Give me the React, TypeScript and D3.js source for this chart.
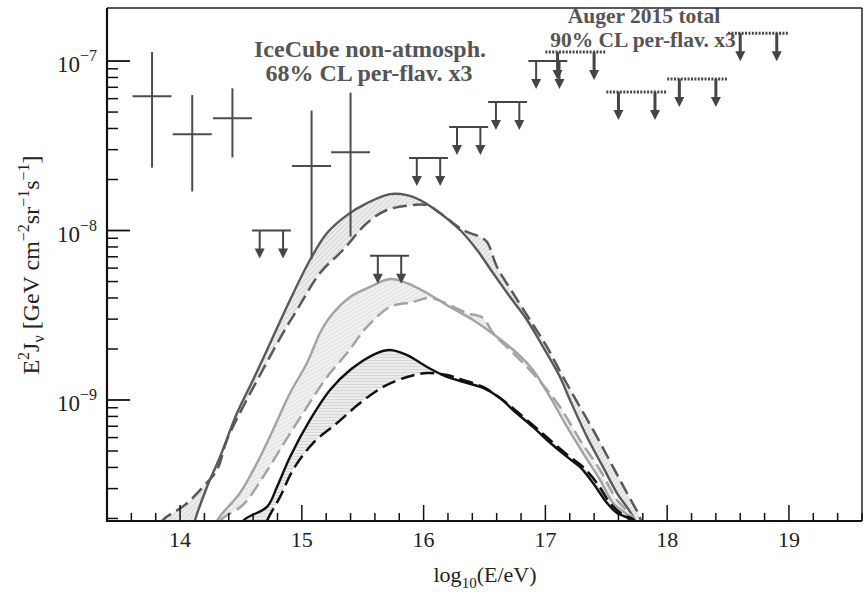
import React from 'react';
import * as d3 from 'd3';

// ---------- data ----------
// IceCube non-atmospheric points (log10 E/eV, E^2 J)
const icePtE = [13.77, 14.10, 14.43, 15.08, 15.40];
const icePtF = [6.2e-8, 3.7e-8, 4.6e-8, 2.4e-8, 2.9e-8];
const icePtHi = [1.13e-7, 6.3e-8, 6.9e-8, 5.1e-8, 6.5e-8];
const icePtLo = [2.35e-8, 1.7e-8, 2.7e-8, 6.8e-9, 9.2e-9];
const iceHalfW = 0.16;
// IceCube upper limits
const iceLimE = [14.75, 15.72, 16.04, 16.37, 16.69, 17.02];
const iceLimF = [1.0e-8, 7.1e-9, 2.68e-8, 4.08e-8, 5.73e-8, 1.0e-7];
// Auger 2015 upper limits
const augLimE = [17.25, 17.75, 18.25, 18.75];
const augLimF = [1.13e-7, 6.56e-8, 7.83e-8, 1.46e-7];
const augHalfW = 0.25;

// model curves: log10(E/eV) and log10(E^2 J)
const darkSolidE = [14.08, 14.123, 14.221, 14.328, 14.468, 14.599, 14.714, 14.763, 14.903, 15.067, 15.207, 15.371, 15.535, 15.724, 15.864, 15.97, 16.077, 16.299, 16.439, 16.57, 16.71, 16.849, 16.981, 17.12, 17.202, 17.342, 17.473, 17.588, 17.72, 17.777];
const darkSolidF = [-9.826, -9.708, -9.513, -9.336, -9.077, -8.882, -8.705, -8.628, -8.41, -8.174, -8.015, -7.909, -7.838, -7.785, -7.791, -7.82, -7.867, -7.997, -8.115, -8.251, -8.392, -8.528, -8.687, -8.864, -9.0, -9.218, -9.395, -9.549, -9.69, -9.826];
const darkDashE = [13.753, 13.86, 14.041, 14.188, 14.303, 14.385, 14.517, 14.714, 14.845, 14.96, 15.149, 15.338, 15.535, 15.699, 15.913, 16.028, 16.135, 16.324, 16.463, 16.521, 16.603, 16.734, 16.874, 17.013, 17.145, 17.284, 17.424, 17.555, 17.67, 17.777, 17.818];
const darkDashF = [-9.826, -9.708, -9.619, -9.513, -9.413, -9.236, -9.041, -8.776, -8.605, -8.469, -8.251, -8.115, -7.956, -7.879, -7.85, -7.85, -7.897, -7.997, -8.038, -8.068, -8.215, -8.369, -8.528, -8.687, -8.864, -9.041, -9.218, -9.395, -9.549, -9.696, -9.826];
const lightSolidE = [14.262, 14.303, 14.492, 14.632, 14.763, 14.903, 15.042, 15.149, 15.231, 15.396, 15.56, 15.724, 15.864, 16.028, 16.217, 16.406, 16.603, 16.767, 16.898, 17.038, 17.178, 17.309, 17.449, 17.555, 17.695, 17.736];
const lightSolidF = [-9.826, -9.714, -9.549, -9.372, -9.177, -8.959, -8.782, -8.605, -8.51, -8.392, -8.333, -8.286, -8.31, -8.369, -8.451, -8.528, -8.628, -8.723, -8.823, -8.982, -9.159, -9.313, -9.472, -9.608, -9.696, -9.826];
const lightDashE = [14.287, 14.328, 14.517, 14.681, 14.845, 15.01, 15.207, 15.371, 15.535, 15.724, 15.913, 16.053, 16.356, 16.488, 16.57, 16.71, 16.849, 16.981, 17.12, 17.284, 17.449, 17.588, 17.72, 17.761];
const lightDashF = [-9.826, -9.714, -9.619, -9.454, -9.265, -9.077, -8.864, -8.723, -8.569, -8.451, -8.422, -8.398, -8.487, -8.516, -8.605, -8.705, -8.805, -8.912, -9.041, -9.236, -9.413, -9.59, -9.696, -9.826];
const blackSolidE = [14.476, 14.517, 14.714, 14.796, 14.903, 15.067, 15.231, 15.396, 15.617, 15.724, 15.864, 16.028, 16.192, 16.299, 16.488, 16.627, 16.734, 16.898, 17.013, 17.178, 17.284, 17.391, 17.506, 17.588, 17.695, 17.736];
const blackSolidF = [-9.826, -9.714, -9.631, -9.513, -9.336, -9.118, -8.941, -8.823, -8.723, -8.705, -8.735, -8.805, -8.864, -8.888, -8.929, -8.988, -9.059, -9.159, -9.236, -9.336, -9.395, -9.49, -9.608, -9.667, -9.708, -9.826];
const blackDashE = [14.673, 14.714, 14.821, 14.927, 15.092, 15.289, 15.478, 15.667, 15.864, 16.028, 16.192, 16.299, 16.488, 16.627, 16.751, 16.915, 17.038, 17.202, 17.309, 17.424, 17.531, 17.629, 17.736, 17.777];
const blackDashF = [-9.826, -9.714, -9.572, -9.413, -9.254, -9.136, -9.018, -8.923, -8.864, -8.841, -8.853, -8.876, -8.923, -8.988, -9.059, -9.159, -9.236, -9.336, -9.395, -9.49, -9.608, -9.673, -9.714, -9.826];

const xTickVals = [14, 15, 16, 17, 18, 19];
const yExpVals = [-9, -8, -7];

// ---------- layout ----------
const W = 863, H = 592;
const L = 107, R = 862, T = 8, B = 521;
const FONT = "'Liberation Serif', 'Times New Roman', serif";

const x = d3.scaleLinear().domain([13.4, 19.6]).range([L, R]);
const y = d3.scaleLog().domain([Math.pow(10, -9.714), Math.pow(10, -6.687)]).range([B, T]);

type P = [number, number];
const zip = (e: number[], f: number[]): P[] => e.map((v, i) => [v, f[i]] as P);

const line = d3.line<P>()
  .x(d => x(d[0]))
  .y(d => y(Math.pow(10, d[1])))
  .curve(d3.curveCatmullRom.alpha(0.5));

const band = (a: P[], b: P[]) => {
  const p1 = line(a) || '';
  const p2 = (line([...b].reverse()) || '').replace(/^M/, 'L');
  return p1 + p2 + 'Z';
};

const pairs = [
  { s: zip(darkSolidE, darkSolidF), d: zip(darkDashE, darkDashF), color: '#595959', pat: 'hatchDark' },
  { s: zip(lightSolidE, lightSolidF), d: zip(lightDashE, lightDashF), color: '#a3a3a3', pat: 'hatchLight' },
  { s: zip(blackSolidE, blackSolidF), d: zip(blackDashE, blackDashF), color: '#111111', pat: 'hatchBlack' },
];

const LIM = '#474444';

function Arrow({ cx, y0, w }: { cx: number; y0: number; w: number }) {
  const len = 28, head = 10, hw = 5;
  return (
    <g>
      <line x1={cx} x2={cx} y1={y0} y2={y0 + len - head + 1} stroke={LIM} strokeWidth={w} />
      <polygon points={`${cx - hw},${y0 + len - head} ${cx + hw},${y0 + len - head} ${cx},${y0 + len}`} fill={LIM} />
    </g>
  );
}

export default function App() {
  const xMinor: number[] = [];
  for (let v = 13.4; v <= 19.61; v += 0.2) xMinor.push(Math.round(v * 10) / 10);
  const yMinor: number[] = [];
  for (let e = -10; e <= -7; e++) for (let m = 2; m <= 9; m++) {
    const v = m * Math.pow(10, e);
    if (v > y.domain()[0] && v < 1e-7) yMinor.push(v);
  }

  return (
    <svg width={W} height={H} style={{ display: 'block', position: 'absolute', left: 0, top: 0, background: '#fff' }}
      fontFamily={FONT}>
      <defs>
        <clipPath id="plot"><rect x={L} y={T} width={R - L} height={B - T} /></clipPath>
        <pattern id="hatchDark" patternUnits="userSpaceOnUse" width="3.5" height="3.5" patternTransform="rotate(45)">
          <rect width="3.5" height="3.5" fill="#ececec" />
          <line x1="0" y1="0" x2="0" y2="3.5" stroke="#c2c2c2" strokeWidth="1" />
        </pattern>
        <pattern id="hatchLight" patternUnits="userSpaceOnUse" width="3.5" height="3.5" patternTransform="rotate(60)">
          <rect width="3.5" height="3.5" fill="#f0f0f0" />
          <line x1="0" y1="0" x2="0" y2="3.5" stroke="#d2d2d2" strokeWidth="1" />
        </pattern>
        <pattern id="hatchBlack" patternUnits="userSpaceOnUse" width="4" height="3">
          <rect width="4" height="3" fill="#ececec" />
          <line x1="0" y1="0" x2="4" y2="0" stroke="#c2c2c2" strokeWidth="1" />
        </pattern>
      </defs>

      <rect x={0} y={0} width={W} height={H} fill="#fff" />

      <g clipPath="url(#plot)">
        {pairs.map((p, i) => (
          <path key={'f' + i} d={band(p.s, p.d)} fill={`url(#${p.pat})`} fillRule="evenodd" stroke="none" />
        ))}
        {pairs.map((p, i) => (
          <g key={'l' + i}>
            <path d={line(p.d) || ''} fill="none" stroke={p.color} strokeWidth={2.5} strokeDasharray="14,6" />
            <path d={line(p.s) || ''} fill="none" stroke={p.color} strokeWidth={2.4} />
          </g>
        ))}
      </g>

      {/* IceCube points */}
      {icePtE.map((e, i) => (
        <g key={'pt' + i} stroke="#4d4d4d" strokeWidth={2}>
          <line x1={x(e - iceHalfW)} x2={x(e + iceHalfW)} y1={y(icePtF[i])} y2={y(icePtF[i])} />
          <line x1={x(e)} x2={x(e)} y1={y(icePtHi[i])} y2={y(icePtLo[i])} />
        </g>
      ))}

      {/* IceCube limits */}
      {iceLimE.map((e, i) => {
        const yy = y(iceLimF[i]);
        return (
          <g key={'il' + i}>
            <line x1={x(e - iceHalfW)} x2={x(e + iceHalfW)} y1={yy} y2={yy} stroke={LIM} strokeWidth={2} />
            <Arrow cx={x(e - 0.6 * iceHalfW)} y0={yy} w={2} />
            <Arrow cx={x(e + 0.6 * iceHalfW)} y0={yy} w={2} />
          </g>
        );
      })}

      {/* Auger limits */}
      {augLimE.map((e, i) => {
        const yy = y(augLimF[i]);
        return (
          <g key={'al' + i}>
            <line x1={x(e - augHalfW)} x2={x(e + augHalfW)} y1={yy} y2={yy} stroke={LIM} strokeWidth={3} strokeDasharray="2,1.4" />
            <Arrow cx={x(e - 0.6 * augHalfW)} y0={yy} w={3} />
            <Arrow cx={x(e + 0.6 * augHalfW)} y0={yy} w={3} />
          </g>
        );
      })}

      {/* annotations */}
      <g fill="#555" fontWeight="bold" textAnchor="middle">
        <text x={370} y={57} fontSize={24}>IceCube non-atmosph.</text>
        <text x={369} y={81} fontSize={24}>68% CL per-flav. x3</text>
        <text x={644} y={23} fontSize={21.5}>Auger 2015 total</text>
        <text x={643} y={47} fontSize={21.5}>90% CL per-flav. x3</text>
      </g>

      {/* frame */}
      <line x1={L} x2={R} y1={T} y2={T} stroke="#222" strokeWidth={1.5} />
      <line x1={R} x2={R} y1={T} y2={B} stroke="#222" strokeWidth={1.5} />
      <line x1={L} x2={L} y1={T} y2={B + 1} stroke="#111" strokeWidth={2.2} />
      <line x1={L - 1} x2={R} y1={B} y2={B} stroke="#111" strokeWidth={2.2} />

      {/* x ticks */}
      {xMinor.map((v, i) => {
        const major = xTickVals.some(t => Math.abs(t - v) < 1e-6);
        return <line key={'xt' + i} x1={x(v)} x2={x(v)} y1={B} y2={B - (major ? 16 : 8)} stroke="#111" strokeWidth={1.5} />;
      })}
      {xTickVals.map(v => (
        <text key={'xl' + v} x={x(v)} y={547} fontSize={22} textAnchor="middle" fill="#222">{v}</text>
      ))}

      {/* y ticks */}
      {yMinor.map((v, i) => (
        <line key={'ym' + i} x1={L} x2={L + 11} y1={y(v)} y2={y(v)} stroke="#111" strokeWidth={1.5} />
      ))}
      {yExpVals.map(e => {
        const yy = y(Math.pow(10, e));
        return (
          <g key={'yl' + e}>
            <line x1={L} x2={L + 23} y1={yy} y2={yy} stroke="#111" strokeWidth={1.8} />
            <text x={97} y={yy + 11} fontSize={23} textAnchor="end" fill="#222">
              10<tspan dy={-11} fontSize={16}>{'\u2212' + Math.abs(e)}</tspan>
            </text>
          </g>
        );
      })}

      {/* axis titles */}
      <text x={485} y={582} fontSize={22} textAnchor="middle" fill="#222">
        log<tspan dy={6} fontSize={15}>10</tspan><tspan dy={-6}>(E/eV)</tspan>
      </text>
      <text transform="translate(39,265) rotate(-90)" fontSize={24} textAnchor="middle" fill="#222">
        E<tspan dy={-10} fontSize={16}>2</tspan><tspan dy={10}>J</tspan><tspan dy={5} fontSize={16}>ν</tspan>
        <tspan dy={-5}> [GeV cm</tspan><tspan dy={-10} fontSize={16}>−2</tspan><tspan dy={10}>sr</tspan>
        <tspan dy={-10} fontSize={16}>−1</tspan><tspan dy={10}>s</tspan><tspan dy={-10} fontSize={16}>−1</tspan>
        <tspan dy={10}>]</tspan>
      </text>
    </svg>
  );
}
